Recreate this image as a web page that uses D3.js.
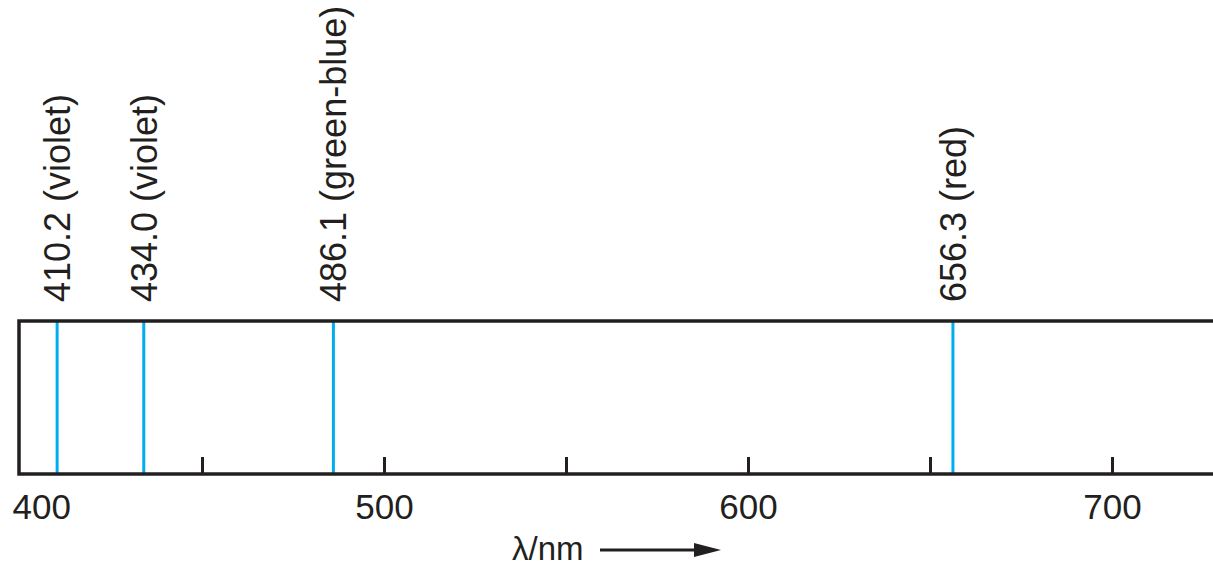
<!DOCTYPE html>
<html>
<head>
<meta charset="utf-8">
<script src="https://cdn.jsdelivr.net/npm/d3@7"></script>
<style>
  body { margin: 0; background: #fff; }
  text { font-family: "Liberation Sans", Arial, sans-serif; fill: #231f20; }
</style>
</head>
<body>
<div id="chart"></div>
<script>
// Balmer lines of hydrogen
var wavelengths = [410.2, 434.0, 486.1, 656.3];
var colourNames = ["violet", "violet", "green-blue", "red"];
var tickValues = [400, 450, 500, 550, 600, 650, 700];
var labelValues = [400, 500, 600, 700];

var width = 1213,
    height = 567,
    boxTop = 321,
    boxBottom = 474;

var svg = d3.select("#chart")
    .append("svg")
    .attr("width", width)
    .attr("height", height);

var x = d3.scaleLinear()
    .domain([400, 700])
    .range([20, 1112]);

var ink = "#231f20",
    blue = "#00aeef";

// spectrum lines
svg.selectAll(".line")
    .data(wavelengths)
    .enter().append("line")
    .attr("class", "line")
    .attr("x1", function(d) { return x(d); })
    .attr("x2", function(d) { return x(d); })
    .attr("y1", boxTop)
    .attr("y2", boxBottom)
    .style("stroke", blue)
    .style("stroke-width", 3);

// frame, open on the right
svg.append("rect")
    .attr("x", x(400) - 1)
    .attr("y", boxTop)
    .attr("width", width + 40)
    .attr("height", boxBottom - boxTop)
    .style("fill", "none")
    .style("stroke", ink)
    .style("stroke-width", 3.5);

// inward ticks
var ticks = svg.append("g")
    .attr("transform", "translate(0," + boxBottom + ")")
    .call(d3.axisBottom(x)
        .tickValues(tickValues.slice(1))
        .tickSize(-17)
        .tickFormat(""));
ticks.select(".domain").remove();
ticks.selectAll("line").style("stroke", ink).style("stroke-width", 3);

var labels = svg.append("g")
    .attr("transform", "translate(0," + boxBottom + ")")
    .call(d3.axisBottom(x)
        .tickValues(labelValues)
        .tickSize(0)
        .tickPadding(20));
labels.select(".domain").remove();
labels.selectAll("text")
    .style("font-family", "'Liberation Sans', Arial, sans-serif")
    .style("font-size", "35px")
    .style("fill", ink);
// first label sits inside the page
labels.selectAll("text")
    .filter(function(d) { return d === 400; })
    .attr("x", -8)
    .style("text-anchor", "start");

// rotated line labels
svg.selectAll(".lineLabel")
    .data(wavelengths)
    .enter().append("text")
    .attr("class", "lineLabel")
    .attr("transform", function(d) { return "translate(" + (x(d) + 13) + ",302) rotate(-90)"; })
    .style("font-size", "36px")
    .style("text-anchor", "start")
    .text(function(d, i) { return d.toFixed(1) + " (" + colourNames[i] + ")"; });

// axis title with arrow
svg.append("text")
    .attr("x", 512)
    .attr("y", 560)
    .style("font-size", "33px")
    .text("λ/nm");

svg.append("line")
    .attr("x1", 600)
    .attr("x2", 696)
    .attr("y1", 550)
    .attr("y2", 550)
    .style("stroke", ink)
    .style("stroke-width", 3);

svg.append("path")
    .attr("d", d3.line()([[694, 543], [721, 550], [694, 557]]) + "Z")
    .style("fill", ink);
</script>
</body>
</html>
